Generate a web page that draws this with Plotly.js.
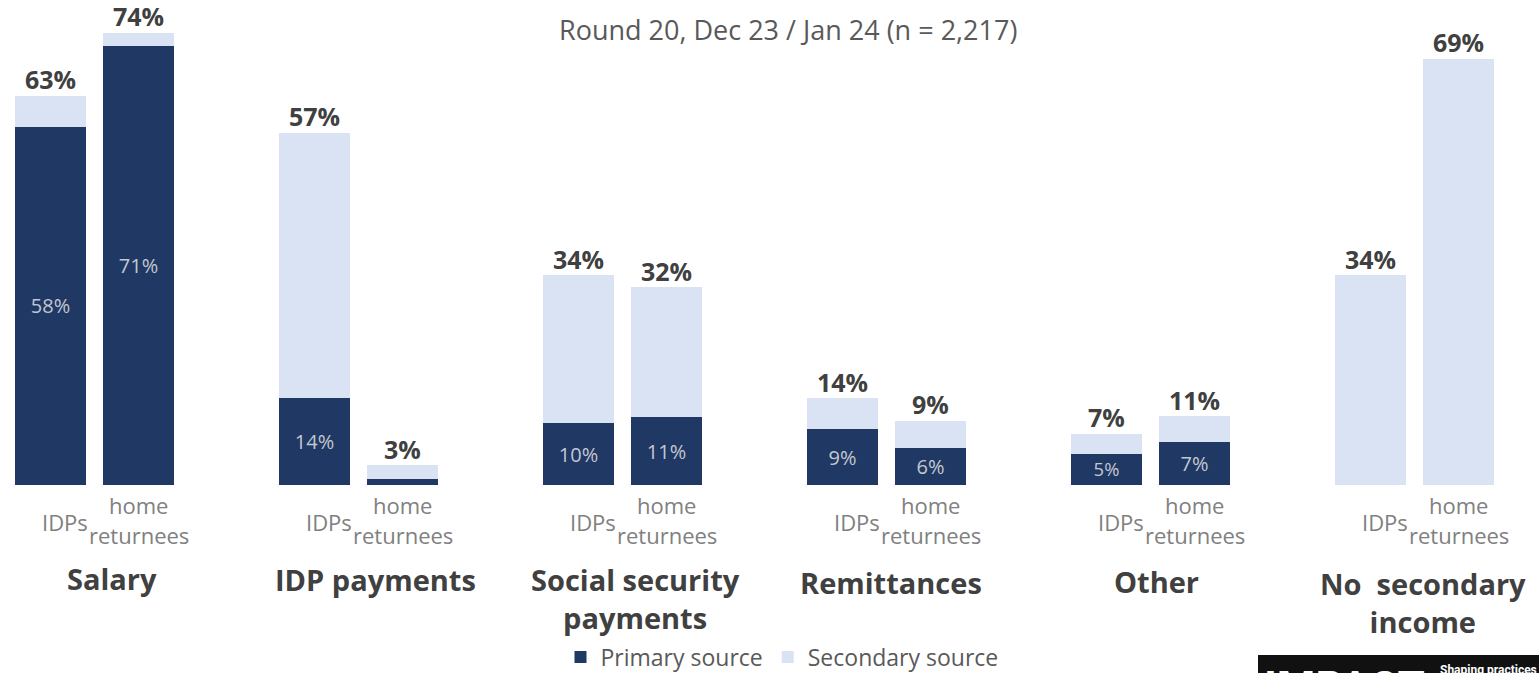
<!DOCTYPE html>
<html>
<head>
<meta charset="utf-8">
<script src="https://cdn.plot.ly/plotly-3.0.1.min.js"></script>
<style>html,body{margin:0;padding:0;background:#fff;}#chart{width:1539px;height:673px;}</style>
</head>
<body>
<div id="chart"></div>
<script>
// ---- data ----
const groups = ["Salary", "IDP payments", "Social security<br>payments", "Remittances", "Other", "No  secondary<br>income"];
const subgroups = ["IDPs", "home", "returnees"];
const primaryIDPs       = [58, 14, 10, 9, 5, 0];
const primaryReturnees  = [71, 1, 11, 6, 7, 0];
const secondaryIDPs     = [5, 43, 24, 5, 3.3, 34];
const secondaryReturnees= [2.2, 2.2, 21, 4.4, 4.2, 69];
const totalIDPs         = [63, 57, 34, 14, 7, 34];
const totalReturnees    = [74, 3, 32, 9, 11, 69];

// ---- layout helpers ----
const PX = 264;             // pixels per group
const off = 44 / PX;        // bar centre offset
const bw = 71 / PX;         // bar width
const x0 = -94.5 / PX;
const x1 = (1539 - 94.5) / PX;
const nameShiftPx = [17.5, 16.5, 12.5, 4, 5.5, 8.5];
const nameRowPx = [578, 579, 558, 582, 581, 562];
const baseY = 485, topY = 20, pxPerPct = 6.18;
const yMax = (baseY - topY) / pxPerPct;
const py = p => (baseY - p) / (baseY - topY); // pixel row -> paper y

const xs = [], prim = [], sec = [], tot = [];
groups.forEach((g, i) => {
  xs.push(i - off, i + off);
  prim.push(primaryIDPs[i], primaryReturnees[i]);
  sec.push(secondaryIDPs[i], secondaryReturnees[i]);
  tot.push(totalIDPs[i], totalReturnees[i]);
});

const navy = "#203864", light = "#DAE3F3";

const traces = [
  {
    type: "bar", name: "Primary source", x: xs, y: prim, width: bw,
    marker: {color: navy},
    text: prim.map(v => v >= 3 ? v + "%" : ""),
    textposition: "inside", insidetextanchor: "middle",
    textfont: {family: "Open Sans", size: 20, color: "#C3C7D0"},
    hoverinfo: "skip"
  },
  {
    type: "bar", name: "Secondary source", x: xs, y: sec, width: bw,
    marker: {color: light},
    textposition: "none", hoverinfo: "skip"
  },
  {
    type: "scatter", mode: "text", showlegend: false, x: xs,
    y: prim.map((v, k) => v + sec[k]),
    text: tot.map(v => "<b>" + v + "%</b>"),
    textposition: "top center",
    textfont: {family: "Open Sans", size: 25, color: "#404040"},
    hoverinfo: "skip", cliponaxis: false
  }
];

const tickFont = {family: "Open Sans", size: 22, color: "#808080"};
const annotations = [];
groups.forEach((g, i) => {
  annotations.push({x: i - off + 14 / PX, y: py(522), xref: "x", yref: "paper", text: subgroups[0],
    showarrow: false, font: tickFont, xanchor: "center", yanchor: "middle"});
  annotations.push({x: i + off, y: py(505), xref: "x", yref: "paper", text: subgroups[1],
    showarrow: false, font: tickFont, xanchor: "center", yanchor: "middle"});
  annotations.push({x: i + off, y: py(535), xref: "x", yref: "paper", text: subgroups[2],
    showarrow: false, font: tickFont, xanchor: "center", yanchor: "middle"});
  const two = g.indexOf("<br>") >= 0;
  annotations.push({x: i + nameShiftPx[i] / PX, y: py(nameRowPx[i]), xref: "x", yref: "paper", text: "<b>" + g + "</b>",
    showarrow: false, font: {family: "Open Sans", size: 29, color: "#404040"}, xanchor: "center",
    yanchor: two ? "top" : "middle", align: "center"});
});
annotations.push({x: 788 / 1539, y: py(30), xref: "paper", yref: "paper", text: "Round 20, Dec 23 / Jan 24 (n = 2,217)",
  showarrow: false, font: {family: "Open Sans", size: 27, color: "#595959"}, xanchor: "center", yanchor: "middle"});
annotations.push({x: 1262 / 1539, y: py(660), xref: "paper", yref: "paper", text: "<b>IMPACT</b>",
  showarrow: false, font: {family: "Roboto", size: 44, color: "#ffffff"}, xanchor: "left", yanchor: "top"});
annotations.push({x: 1438 / 1539, y: py(661), xref: "paper", yref: "paper", text: "<b>Shaping practices</b>",
  showarrow: false, font: {family: "Roboto", size: 12, color: "#ffffff"}, xanchor: "left", yanchor: "top"});

const layout = {
  width: 1539, height: 673,
  margin: {l: 0, r: 0, t: topY, b: 673 - baseY, pad: 0},
  paper_bgcolor: "#ffffff", plot_bgcolor: "#ffffff",
  barmode: "stack",
  showlegend: true,
  legend: {orientation: "h", xref: "container", yref: "container", x: 782 / 1539, xanchor: "center",
    y: (673 - 657) / 673, yanchor: "middle",
    font: {family: "Open Sans", size: 23, color: "#595959"}, traceorder: "normal", itemwidth: 30},
  xaxis: {range: [x0, x1], showgrid: false, zeroline: false, showticklabels: false, showline: false, ticks: ""},
  yaxis: {range: [0, yMax], showgrid: false, zeroline: false, showticklabels: false, showline: false, ticks: ""},
  shapes: [{type: "rect", xref: "paper", yref: "paper", x0: 1258 / 1539, x1: 1, y0: py(655), y1: py(680),
    fillcolor: "#111111", line: {width: 0}}],
  annotations: annotations
};

Plotly.newPlot("chart", traces, layout, {staticPlot: true, displayModeBar: false});
</script>
</body>
</html>
